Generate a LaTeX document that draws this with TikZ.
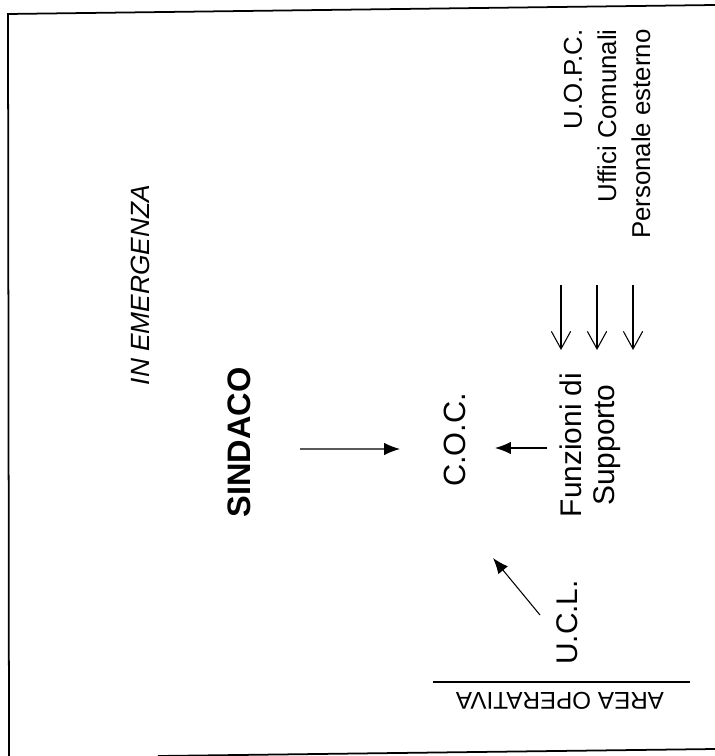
\documentclass[tikz,border=0pt]{standalone}
\usepackage{fontspec}
\setmainfont{Liberation Sans}
\usepackage{tikz}
\usetikzlibrary{arrows.meta, calc}

\begin{document}
\begin{tikzpicture}[
  x=0.02cm, y=-0.02cm,
  txt/.style={inner sep=0pt, rotate=90, font=\fontsize{17}{18.7}\selectfont},
  small/.style={txt, anchor=east, font=\fontsize{14.7}{16}\selectfont},
  frame/.style={line width=1pt},
  arrow/.style={-{Latex[length=9pt,width=7pt]}, line width=0.6pt},
  barb/.style={-{Straight Barb[length=10pt,width=11pt]}, line width=0.6pt},
]
  \useasboundingbox (0,0) rectangle (715,756);

  % scanned page border
  \draw[frame] (715,5) -- (8,14) -- (9,756);
  \draw[frame] (158,756) -- (715,749);

  \node[txt, font=\fontsize{15}{17}\selectfont\itshape] (title) at (140,285) {IN EMERGENZA};
  \node[txt, font=\fontsize{18.5}{20}\selectfont\bfseries] (sindaco) at (239.5,442.5) {SINDACO};
  \node[txt, font=\fontsize{17.5}{19}\selectfont] (coc) at (455,440) {C.O.C.};
  \node[txt, align=center] (funz) at (590,445) {Funzioni di\\Supporto};
  \node[txt] (ucl) at (567.5,622.5) {U.C.L.};

  \node[small] (uopc) at (573,29) {U.O.P.C.};
  \node[small] (uffici) at (607,29) {Uffici Comunali};
  \node[small] (pers) at (641,29) {Personale esterno};

  \node[inner sep=0pt, rotate=180, font=\fontsize{13.8}{15}\selectfont] (area) at (560,701) {AREA OPERATIVA};
  \draw[line width=0.8pt] (433,682) -- (690,682);

  \draw[arrow] ($(sindaco)+(60.5,6.5)$) -- ($(coc)+(-55,9)$);
  \draw[arrow] ($(funz)+(-43,3)$) -- ($(coc)+(40,8)$);
  \draw[arrow] ($(ucl)+(-27.5,-7.5)$) -- ($(coc)+(38,118)$);
  \foreach \src/\dx/\ex in {uopc/-12/-29, uffici/-10/7, pers/-8/43}
    \draw[barb] ($(\src.east)+(\dx,256)$) -- ($(funz)+(\ex,-95)$);
\end{tikzpicture}
\end{document}
